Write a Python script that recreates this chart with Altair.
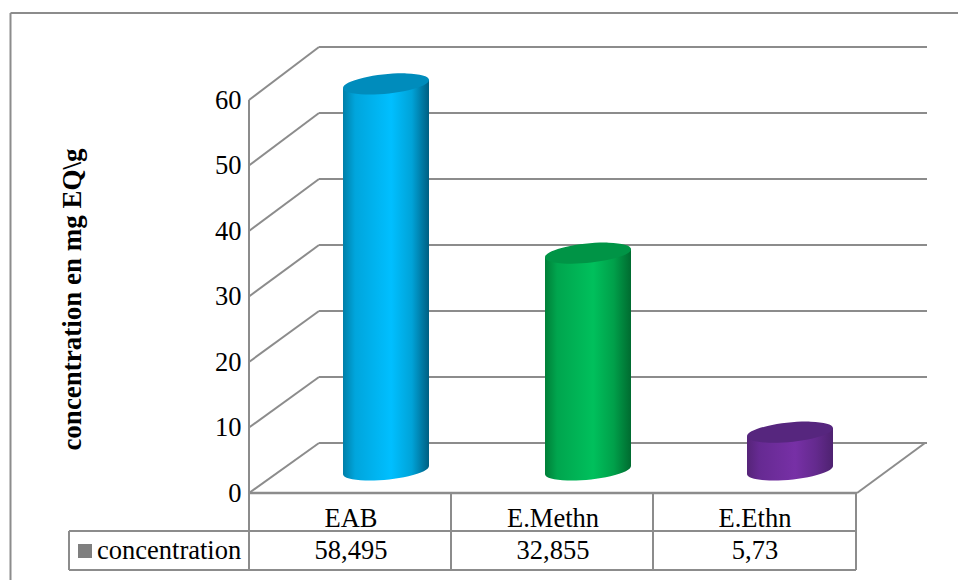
import altair as alt

categories = ["EAB", "E.Methn", "E.Ethn"]
concentration = [58.495, 32.855, 5.73]
series_name = "concentration"
y_ticks = [0, 10, 20, 30, 40, 50, 60]
axis_title = "concentration en mg EQ\\g"

LINE = "#8c8c8c"
SERIF = "Liberation Serif"
TEXT_SIZE = 26.5

# colours per column: five stops across the body, then the top cap
shades = {
    "EAB": (("#007fa8", "#00a5dc", "#00bfff", "#00a3d8", "#005f82"), "#008cbc"),
    "E.Methn": (("#007f38", "#00a54e", "#00c05c", "#00a04a", "#006b30"), "#009446"),
    "E.Ethn": (("#552478", "#662a92", "#7730a6", "#642a8e", "#4e2270"), "#56267e"),
}
stop_offsets = [0, 0.14, 0.56, 0.8, 1]

rows = [
    {"category": c, "value": v, "label": str(v).replace(".", ",")}
    for c, v in zip(categories, concentration)
]

x_scale = alt.Scale(domain=categories, range=[250, 856], paddingInner=0, paddingOuter=0)
y_back = alt.Scale(domain=[0, 60], range=[443, 47])
y_front = alt.Scale(domain=[0, 60], range=[493, 100])


def line(x, x2, y, y2, width=2.0, color=LINE):
    """A straight frame or table line."""
    return alt.Chart(alt.Data(values=[{"k": 0}])).mark_rule(
        color=color, strokeWidth=width
    ).encode(
        x=alt.value(x), x2=alt.value(x2), y=alt.value(y), y2=alt.value(y2)
    )


def gradient(colors):
    return alt.Gradient(
        gradient="linear", x1=0, x2=1, y1=0, y2=0,
        stops=[
            alt.GradientStop(color=c, offset=o) for c, o in zip(colors, stop_offsets)
        ],
    )


# Tilted caps of the cylinders, in the -1..1 symbol box
CAP = "M-1,0.1 A1.005,0.225,-5.7,1,1,1,-0.1 A1.005,0.225,-5.7,1,1,-1,0.1 Z"
BASE = "M-1,0.1 A1.005,0.225,-5.7,1,0,1,-0.1 L1,-0.4 L-1,-0.4 Z"
COLLAR = "M-1,0.1 L-1,0.5 L1,0.5 L1,-0.1 Z"
CYL_W = 86
CYL_DX = 35
CYL_DY = 27

# The category axis sits at the floor line, above the table's first row
x_enc = alt.X(
    "category:N", scale=x_scale, sort=categories,
    axis=alt.Axis(
        orient="bottom", offset=-87, domain=False, ticks=False, grid=False, title=None,
        labelAngle=0, labelFont=SERIF, labelFontSize=TEXT_SIZE, labelColor="black",
        labelPadding=12.5,
    ),
)

back_layers = []

# Back wall grid lines and the side wall diagonals
for t in y_ticks:
    drop = 50 + 3 * t / 60
    tick_data = alt.Data(values=[{"tick": t}])
    back_layers.append(
        alt.Chart(tick_data).mark_rule(color=LINE, strokeWidth=2).encode(
            x=alt.value(319), x2=alt.value(927),
            y=alt.Y("tick:Q", scale=y_back, axis=None),
        )
    )
    back_layers.append(
        alt.Chart(tick_data).mark_rule(color=LINE, strokeWidth=2, y2Offset=drop).encode(
            x=alt.value(319), x2=alt.value(249),
            y=alt.Y("tick:Q", scale=y_back, axis=None),
            y2=alt.Y2("tick:Q"),
        )
    )

# Cylinders: base, body, collar under the cap, cap
for row in rows:
    body, top = shades[row["category"]]
    fill = gradient(body)
    d = alt.Data(values=[row])
    symbol_style = dict(
        size=CYL_W ** 2, filled=True, opacity=1, strokeWidth=0,
        xOffset=CYL_DX, yOffset=CYL_DY,
    )
    back_layers.append(
        alt.Chart(d).mark_point(shape=BASE, fill=fill, **symbol_style).encode(
            x=x_enc, y=alt.Y(datum=0, scale=y_back, axis=None)
        )
    )
    back_layers.append(
        alt.Chart(d).mark_bar(
            fill=fill, size=CYL_W, xOffset=CYL_DX, yOffset=CYL_DY + 10, y2Offset=CYL_DY - 10,
        ).encode(
            x=x_enc,
            y=alt.Y("value:Q", scale=y_back, axis=None),
            y2=alt.Y2(datum=0),
        )
    )
    back_layers.append(
        alt.Chart(d).mark_point(shape=COLLAR, fill=fill, **symbol_style).encode(
            x=x_enc, y=alt.Y("value:Q", scale=y_back, axis=None)
        )
    )
    back_layers.append(
        alt.Chart(d).mark_point(shape=CAP, fill=top, **symbol_style).encode(
            x=x_enc, y=alt.Y("value:Q", scale=y_back, axis=None)
        )
    )

back = alt.layer(*back_layers)

# Front edge of the side wall, carrying the value axis
front_axis = alt.Chart(alt.Data(values=[{"lo": 0, "hi": 60}])).mark_rule(
    color=LINE, strokeWidth=2
).encode(
    x=alt.value(249),
    y=alt.Y(
        "hi:Q", scale=y_front,
        axis=alt.Axis(
            orient="left", offset=-249, values=y_ticks, domain=False, ticks=False, grid=False,
            format="d", labelFont=SERIF, labelFontSize=TEXT_SIZE, labelColor="black",
            labelPadding=8,
            title=axis_title, titleFont=SERIF, titleFontSize=27, titleFontWeight="bold",
            titleColor="black", titleX=-163, titleY=299, titleAngle=-90,
        ),
    ),
    y2=alt.Y2("lo:Q"),
)

# Data table beneath the floor
table_data = alt.Data(values=rows)
value_labels = alt.Chart(table_data).mark_text(
    font=SERIF, fontSize=TEXT_SIZE, color="black", baseline="middle"
).encode(x=x_enc, y=alt.value(551), text="label:N")
series_label = alt.Chart(alt.Data(values=[{"name": series_name}])).mark_text(
    font=SERIF, fontSize=TEXT_SIZE, color="black", align="left", baseline="middle"
).encode(x=alt.value(97), y=alt.value(551), text="name:N")
legend_key = alt.Chart(alt.Data(values=[{"k": 0}])).mark_rect(color="#7f7f7f").encode(
    x=alt.value(78), x2=alt.value(92), y=alt.value(544), y2=alt.value(558)
)

frame_lines = [
    line(10.5, 958, 13, 13),
    line(10.5, 10.5, 13, 580),
    line(249, 857, 493, 493, 2.5),
    line(857, 925, 493, 443),
    line(249, 249, 493, 570),
    line(451, 451, 493, 570),
    line(653, 653, 493, 570),
    line(856, 856, 493, 570),
    line(69, 856, 531, 531),
    line(69, 856, 570, 570),
    line(69, 69, 531, 570),
]

chart = alt.layer(
    back,
    front_axis,
    *frame_lines,
    value_labels,
    series_label,
    legend_key,
).resolve_scale(y="independent").properties(
    width=958, height=580, padding=0, autosize=alt.AutoSizeParams(type="none"), background="white"
).configure_view(stroke=None)

chart.save("out.html", embed_options={"renderer": "svg", "actions": False})
